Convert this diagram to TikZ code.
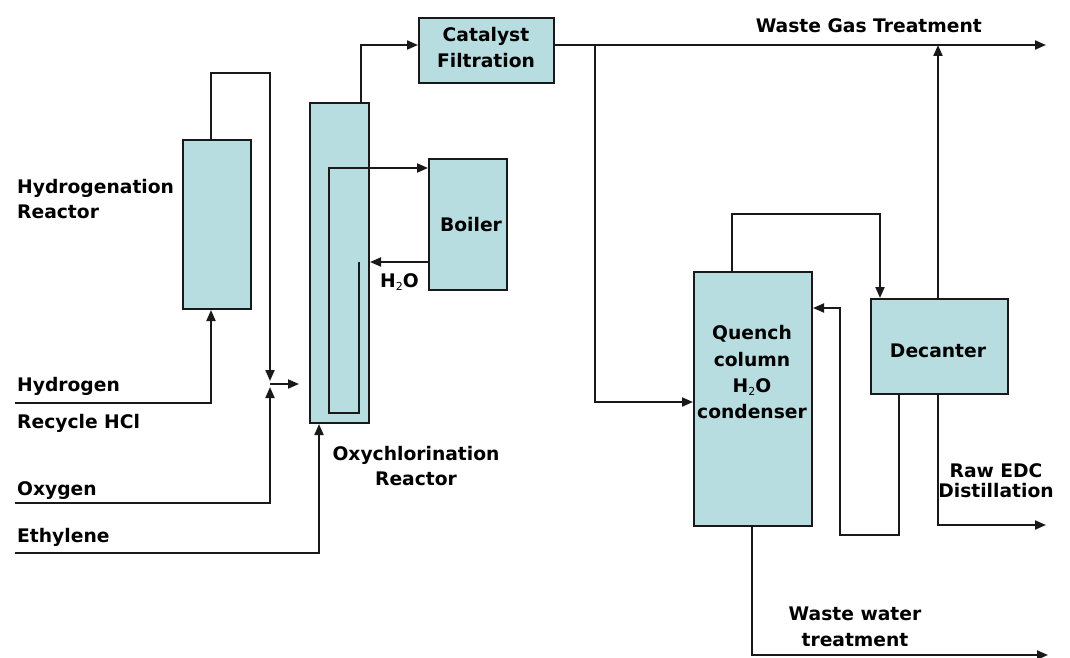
\documentclass[tikz,border=0pt]{standalone}
\usepackage{fontspec}
\setmainfont{DejaVu Sans}
\usetikzlibrary{arrows.meta,calc}
\definecolor{boxfill}{RGB}{183,221,224}
\newcommand{\sub}[1]{\raisebox{-3.5pt}{\fontsize{11}{11}\selectfont\mdseries #1}}
\begin{document}
\begin{tikzpicture}[x=1pt,y=-1pt,
  unit/.style={draw=black!90, fill=boxfill, line width=2pt, inner sep=0pt, anchor=north west},
  pipe/.style={draw=black!90, line width=2pt},
  arr/.style={pipe, -{Triangle[length=11pt,width=9pt]}},
  lbl/.style={font=\fontsize{18.7}{26}\selectfont\bfseries, inner sep=0pt},
]
\useasboundingbox (0,0) rectangle (1070,658);

% units
\node[unit, minimum width=68pt, minimum height=169pt] (hydro) at (182,139) {};
\node[unit, minimum width=59pt, minimum height=320pt] (oxy) at (309,102) {};
\node[unit, minimum width=78pt, minimum height=131pt] (boiler) at (428,158) {};
\node[unit, minimum width=135pt, minimum height=65pt] (cat) at (418,17) {};
\node[unit, minimum width=118pt, minimum height=254pt] (quench) at (693,271) {};
\node[unit, minimum width=137pt, minimum height=95pt] (dec) at (870,298) {};

% free ends
\coordinate (hIn) at (15,403);
\coordinate (oIn) at (15,503);
\coordinate (eIn) at (15,553);
\coordinate (jc) at (270,384);
\coordinate (jtop) at (270,381);
\coordinate (jbot) at (270,387);
\coordinate (jright) at (299,384);
\coordinate (gasOut) at (1046,45);
\coordinate (edcOut) at (1046,525);
\coordinate (wwOut) at (1048,655);
\coordinate (branch) at (595,45);

% texts inside units
\node[lbl, anchor=base] at (486,42) {Catalyst};
\node[lbl, anchor=base] at (486,68) {Filtration};
\node[lbl, anchor=base] at (471,231) {Boiler};
\node[lbl, anchor=base] at (938,357) {Decanter};
\node[lbl, anchor=base] at (752,339) {Quench};
\node[lbl, anchor=base] at (752,366) {column};
\node[lbl, anchor=base] at (752,392) {H\sub{2}O};
\node[lbl, anchor=base] at (752,418) {condenser};

% other labels
\node[lbl, anchor=base west] at (17,193) {Hydrogenation};
\node[lbl, anchor=base west] at (17,218) {Reactor};
\node[lbl, anchor=base west] at (17,391) {Hydrogen};
\node[lbl, anchor=base west] at (17,428) {Recycle HCl};
\node[lbl, anchor=base west] at (17,495) {Oxygen};
\node[lbl, anchor=base west] at (17,542) {Ethylene};
\node[lbl, anchor=base] at (416,460) {Oxychlorination};
\node[lbl, anchor=base] at (416,485) {Reactor};
\node[lbl, anchor=base west] at (380,287) {H\sub{2}O};
\node[lbl, anchor=base east] at (982,33) {Waste Gas Treatment};
\node[lbl, anchor=base] at (996,477) {Raw EDC};
\node[lbl, anchor=base] at (996,497) {Distillation};
\node[lbl, anchor=base] at (855,620) {Waste water};
\node[lbl, anchor=base] at (855,646) {treatment};

% connectors
\draw[arr] ($(hydro.north west)+(29,0)$) -- (211,73) -- (270,73) -- (jtop);
\draw[arr] (hIn) -- (211,403) -- ($(hydro.south west)+(29,0)$);
\draw[arr] (oIn) -- (270,503) -- (jbot);
\draw[arr] (jc) -- (jright);
\draw[arr] (eIn) -- (319,553) -- ($(oxy.south west)+(10,0)$);
\draw[arr] ($(oxy.north east)+(-9,0)$) |- ($(cat.north west)+(0,28)$);
\draw[arr] ($(cat.north east)+(0,28)$) -- (gasOut);
\draw[arr] (branch) |- ($(quench.north west)+(0,131)$);
\draw[arr] ($(quench.north west)+(39,0)$) |- (880,214) -- ($(dec.north west)+(10,0)$);
\draw[arr] ($(dec.north west)+(68,0)$) -- (938,45);
\draw[arr] ($(dec.south west)+(29,0)$) |- (840,535) |- ($(quench.north east)+(0,37)$);
\draw[arr] ($(dec.south west)+(68,0)$) |- (edcOut);
\draw[arr] ($(quench.south west)+(59,0)$) |- (wwOut);
% boiler loop
\draw[pipe] ($(oxy.north east)+(0,66)$) -| (329,413) -| (359,262);
\draw[arr] ($(oxy.north east)+(0,66)$) -- ($(boiler.north west)+(0,10)$);
\draw[arr] ($(boiler.north west)+(0,104)$) -- ($(oxy.north east)+(0,160)$);
\end{tikzpicture}
\end{document}
